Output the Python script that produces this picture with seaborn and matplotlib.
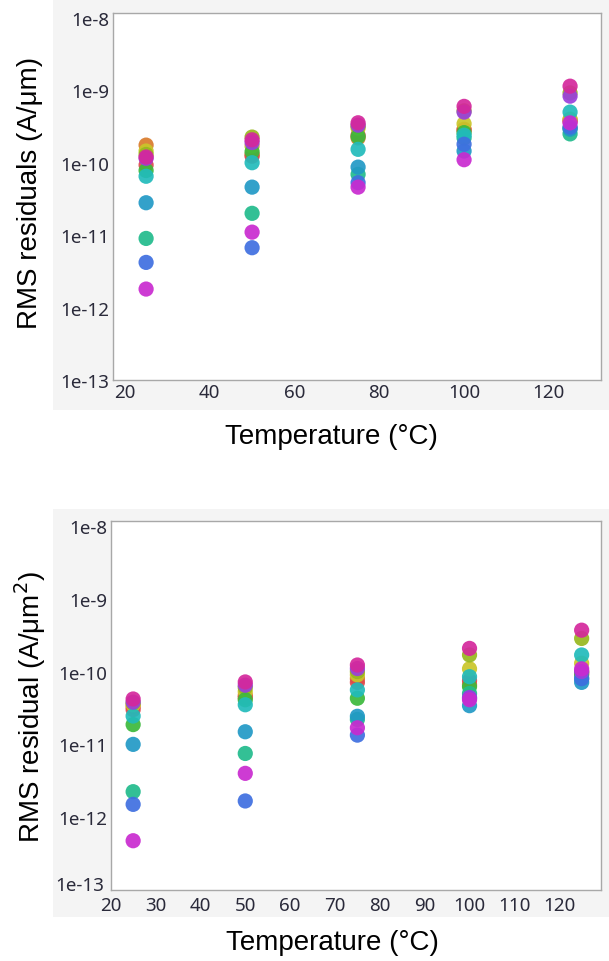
import numpy as np
import pandas as pd
import matplotlib.pyplot as plt
import matplotlib.ticker as mticker
import matplotlib.transforms as mtrans
from matplotlib.patches import Rectangle
import seaborn as sns

sns.set_theme(style="white")
plt.rcParams['font.family'] = ['Liberation Sans', 'DejaVu Sans']

# data: residuals per device series at each temperature
temps = [25, 50, 75, 100, 125]
series = ["orange", "red", "yellow", "olive", "green", "tealgreen",
          "cyan", "bluecyan", "blue", "purple", "magenta", "pink"]
colors = ["#d97b2b", "#e0474c", "#c9c62a", "#97b81e", "#3cb93c", "#21bb8c",
          "#21bbbb", "#2199c6", "#3f6fe0", "#9a3fdc", "#c92ad0", "#d4289c"]

# top chart: RMS residuals (A/um)
rms_um = {
    "orange":    [1.75e-10, 1.30e-10, 2.20e-10, 2.90e-10, 3.90e-10],
    "red":       [0.93e-10, 1.23e-10, 2.40e-10, 2.80e-10, 3.70e-10],
    "yellow":    [1.45e-10, 1.70e-10, 3.00e-10, 3.45e-10, 4.00e-10],
    "olive":     [1.30e-10, 2.26e-10, 3.20e-10, 5.20e-10, 9.20e-10],
    "green":     [0.78e-10, 1.42e-10, 2.30e-10, 2.60e-10, 3.00e-10],
    "tealgreen": [9.0e-12, 2.0e-11, 6.9e-11, 2.20e-10, 2.50e-10],
    "cyan":      [0.65e-10, 1.00e-10, 1.53e-10, 2.40e-10, 5.00e-10],
    "bluecyan":  [2.8e-11, 4.6e-11, 8.7e-11, 1.45e-10, 2.90e-10],
    "blue":      [4.2e-12, 6.7e-12, 5.3e-11, 1.80e-10, 3.10e-10],
    "purple":    [1.15e-10, 1.90e-10, 3.30e-10, 5.00e-10, 8.30e-10],
    "magenta":   [1.8e-12, 1.1e-11, 4.6e-11, 1.10e-10, 3.55e-10],
    "pink":      [1.20e-10, 2.07e-10, 3.56e-10, 6.00e-10, 1.14e-9],
}

# bottom chart: RMS residual (A/um^2)
rms_um2 = {
    "orange":    [3.3e-11, 4.7e-11, 8.0e-11, 6.6e-11, 9.5e-11],
    "red":       [3.0e-11, 4.4e-11, 7.1e-11, 7.5e-11, 1.00e-10],
    "yellow":    [3.5e-11, 5.3e-11, 9.0e-11, 1.09e-10, 1.30e-10],
    "olive":     [3.7e-11, 6.05e-11, 1.00e-10, 1.69e-10, 2.85e-10],
    "green":     [1.87e-11, 4.1e-11, 4.3e-11, 6.2e-11, 9.0e-11],
    "tealgreen": [2.24e-12, 7.5e-12, 2.2e-11, 5.0e-11, 8.0e-11],
    "cyan":      [2.45e-11, 3.5e-11, 5.6e-11, 8.5e-11, 1.69e-10],
    "bluecyan":  [1.0e-11, 1.49e-11, 2.43e-11, 3.4e-11, 7.1e-11],
    "blue":      [1.5e-12, 1.67e-12, 1.34e-11, 4.3e-11, 8.0e-11],
    "purple":    [3.8e-11, 6.5e-11, 1.10e-10, 4.4e-11, 1.00e-10],
    "magenta":   [4.75e-13, 4.0e-12, 1.69e-11, 4.1e-11, 1.09e-10],
    "pink":      [4.2e-11, 7.2e-11, 1.23e-10, 2.08e-10, 3.70e-10],
}

ytick_vals = [1e-13, 1e-12, 1e-11, 1e-10, 1e-9, 1e-8]


def to_long(d):
    rows = []
    for s in series:
        for t, v in zip(temps, d[s]):
            rows.append((s, t, v))
    return pd.DataFrame(rows, columns=["series", "temp", "rms"])


pal = dict(zip(series, colors))
fig = plt.figure(figsize=(6.09, 9.62), dpi=100)

# grey panels behind each chart
fig.patches.append(Rectangle((0.087, 0.5728), 0.913, 0.4272, transform=fig.transFigure,
                             facecolor="#f4f4f4", edgecolor="none", zorder=-5))
fig.patches.append(Rectangle((0.087, 0.0457), 0.913, 0.4241, transform=fig.transFigure,
                             facecolor="#f4f4f4", edgecolor="none", zorder=-5))

ax1 = fig.add_axes([0.1856, 0.6040, 0.8013, 0.3815], zorder=2)
ax2 = fig.add_axes([0.1818, 0.0738, 0.8057, 0.3839], zorder=2)


def style_ax(ax, df, xlim, ylim, major, minor):
    sns.scatterplot(data=df, x="temp", y="rms", hue="series", palette=pal,
                    hue_order=series, s=120, linewidth=0, alpha=0.92,
                    legend=False, ax=ax)
    ax.set_yscale("log")
    ax.set_xlim(*xlim)
    ax.set_ylim(*ylim)
    ax.set_yticks(ytick_vals)
    ax.yaxis.set_minor_locator(mticker.NullLocator())
    ax.yaxis.set_major_formatter(mticker.FuncFormatter(
        lambda v, _: "1e%d" % int(round(np.log10(v)))))
    ax.set_xticks(major)
    ax.set_xticks(minor, minor=True)
    ax.set_xlabel("")
    ax.set_ylabel("")
    ax.set_facecolor("white")
    for sp in ax.spines.values():
        sp.set_color("#a8a8a8")
        sp.set_linewidth(1.0)
    ax.tick_params(which="major", direction="in", length=7, width=1,
                   color="#a0a0a0", pad=2.5, labelsize=13.5, labelcolor="#2a2a3a")
    ax.tick_params(which="minor", direction="in", length=3.5, width=1,
                   color="#a0a0a0")
    for lab in ax.get_xticklabels() + ax.get_yticklabels():
        lab.set_family("Noto Sans")


style_ax(ax1, to_long(rms_um), (17.2, 132.3), (1e-13, 1.17e-8),
         np.arange(20, 121, 20), np.arange(30, 131, 20))
style_ax(ax2, to_long(rms_um2), (20, 129.4), (1e-13, 1.18e-8),
         np.arange(20, 121, 10), np.arange(25, 126, 10))

# lower chart: 1e-13 sits right at the corner next to "20", lift it a little
ax2.tick_params(axis="x", which="major", pad=4)
lab0 = ax2.get_yticklabels()[0]
lab0.set_transform(lab0.get_transform() +
                   mtrans.ScaledTranslation(-2 / 72, 5 / 72, fig.dpi_scale_trans))

fig.text(30 / 609, 1 - 193 / 962, "RMS residuals (A/\u03bcm)", rotation=90,
         ha="center", va="center", fontsize=20, color="black")
fig.text(331 / 609, 1 - 437 / 962, "Temperature (\u00b0C)",
         ha="center", va="center", fontsize=20, color="black")
fig.text(30 / 609, 1 - 707 / 962, "RMS residual (A/\u03bcm$^2$)", rotation=90,
         ha="center", va="center", fontsize=20, color="black")
fig.text(332 / 609, 1 - 943 / 962, "Temperature (\u00b0C)",
         ha="center", va="center", fontsize=20, color="black")

fig.savefig("out.png", dpi=100)
